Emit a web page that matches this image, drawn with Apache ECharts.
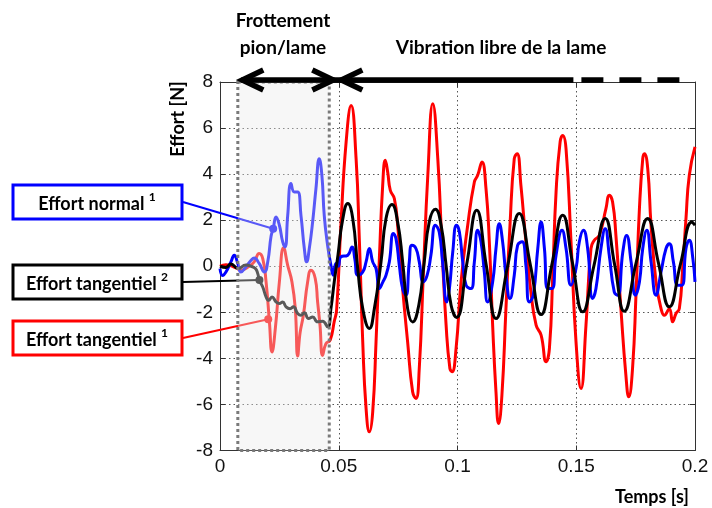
<!DOCTYPE html>
<html><head><meta charset="utf-8">
<script src="https://cdn.jsdelivr.net/npm/echarts@6/dist/echarts.min.js"></script>
<style>html,body{margin:0;padding:0;background:#fff}#c{width:712px;height:508px}</style>
</head><body><div id="c"></div>
<script>
// ---- tick labels ----
const xTickLabels = ['0', '0.05', '0.1', '0.15', '0.2'];
const yTickLabels = ['-8', '-6', '-4', '-2', '0', '2', '4', '6', '8'];

// ---- series: [time (s), effort (N)] ----
const effortTangentiel1 = [
 [0,0],[.0025,0.07],[.0067,-0.07],[.0088,-0.17],[.0123,0],[.0144,0.19],[.0165,0.55],[.0180,0.33],[.0194,-0.68],[.0208,-2.4],
 [.0219,-3.72],[.0233,-2.7],[.0250,-0.68],[.0268,0.8],[.0285,0.04],[.0303,-0.68],[.0317,-1.84],[.0327,-3.9],[.0337,-2.9],[.0351,-2.13],
 [.0369,-0.68],[.0383,-0.17],[.0401,-0.53],[.0411,-1.55],[.0421,-2.56],[.0432,-3.87],[.0446,-3.36],[.0464,-3.2],[.0481,-2.4],[.0491,-1.9],
 [.0509,1.78],[.0531,5.39],[.0552,6.98],[.0573,4.67],[.0587,1.06],[.0601,-3.28],[.0615,-6.17],[.0629,-7.19],[.0643,-6.32],[.0657,-3.28],
 [.0671,0.33],[.0685,3.51],[.0696,4.6],[.0706,4.09],[.0717,3.3],[.0734,2.94],[.0748,1.78],[.0769,-0.97],[.0790,-3.28],[.0811,-5.45],
 [.0825,-5.74],[.0839,-4.44],[.0856,-0.39],[.0875,3.95],[.0896,7.06],[.0917,4.67],[.0935,0.77],[.0952,-2.56],[.0968,-4.44],[.0977,-4.58],
 [.0994,-3.57],[.1015,-0.68],[.1043,1.78],[.1071,3.66],[.1085,3.95],[.1103,4.53],[.1120,3.37],[.1134,1.06],[.1148,-2.56],[.1162,-5.45],
 [.1173,-6.83],[.1187,-5.6],[.1204,-1.84],[.1221,1.78],[.1239,4.67],[.1251,4.89],[.1267,3.51],[.1288,1.06],[.1309,-1.11],[.1331,-2.56],
 [.1352,-2.99],[.1373,-4.15],[.1387,-3.57],[.1401,-0.39],[.1415,3.22],[.1432,5.39],[.1443,5.68],[.1457,5.1],[.1478,1.06],[.1499,-3.28],
 [.1520,-5.31],[.1541,-2.56],[.1562,0.77],[.1576,1.13],[.1597,1.34],[.1625,2.5],[.1639,3.08],[.1653,2.79],[.1667,1.34],[.1688,-1.84],
 [.1709,-4.73],[.1721,-5.67],[.1737,-4.44],[.1752,-1.11],[.1766,2.5],[.1780,4.67],[.1787,4.89],[.1801,4.24],[.1815,1.78],[.1836,-0.68],
 [.1857,-1.84],[.1871,-2.13],[.1892,-1.84],[.1906,-2.41],[.1920,-2.05],[.1934,-1.84],[.1948,-0.1],[.1962,2.07],[.1976,3.95],[.2000,5.18]
];
const effortTangentiel2 = [
 [0,0],[.0025,-0.05],[.0046,0.1],[.0076,-0.1],[.0109,0.05],[.0131,0],[.0149,-0.1],[.0159,-0.32],[.0166,-0.61],[.0180,-0.9],
 [.0194,-1.33],[.0205,-1.48],[.0219,-1.33],[.0236,-1.55],[.0250,-1.62],[.0264,-1.55],[.0278,-1.76],[.0295,-1.84],[.0309,-1.76],[.0327,-2.05],
 [.0341,-2.13],[.0355,-2.02],[.0373,-2.27],[.0390,-2.2],[.0411,-2.41],[.0432,-2.39],[.0453,-2.63],[.0467,-1.84],[.0481,-0.68],[.0497,0.5],
 [.0516,2.0],[.0538,2.72],[.0559,2.07],[.0580,-0.1],[.0601,-1.84],[.0629,-2.7],[.0650,-1.84],[.0678,0.19],[.0699,2.07],[.0724,2.68],
 [.0748,1.92],[.0769,0.19],[.0790,-1.84],[.0811,-2.42],[.0837,-1.69],[.0860,0.19],[.0881,1.92],[.0907,2.47],[.0931,1.78],[.0952,0.04],
 [.0973,-1.69],[.0996,-2.22],[.1039,0.1],[.1081,2.43],[.1121,0.05],[.1162,-2.27],[.1211,0.0],[.1260,2.29],[.1306,0.1],[.1352,-2.1],
 [.1397,0.05],[.1443,2.21],[.1485,0.1],[.1527,-1.98],[.1575,0.05],[.1622,2.07],[.1662,0.05],[.1702,-1.95],[.1752,0.15],[.1801,2.07],
 [.1846,0.15],[.1892,-1.76],[.1939,0.1],[.1987,1.92],[.2000,1.78]
];
const effortNormal1 = [
 [0,-0.1],[.0011,-0.4],[.0025,-0.25],[.0046,0.19],[.0060,0.48],[.0075,0.12],[.0088,-0.25],[.0109,-0.03],[.0131,0.26],[.0144,0.36],
 [.0165,0.12],[.0187,-0.25],[.0201,0.19],[.0215,1.3],[.0224,1.63],[.0236,2.14],[.0250,1.78],[.0264,1.06],[.0274,0.84],[.0285,2.2],
 [.0299,3.59],[.0313,3.22],[.0327,3.22],[.0341,2.2],[.0355,0.77],[.0365,0.19],[.0376,0.77],[.0390,1.92],[.0404,3.37],[.0418,4.67],
 [.0429,3.95],[.0439,2.2],[.0453,0.91],[.0467,0.04],[.0477,-0.39],[.0488,0.12],[.0498,0.0],[.0508,0.4],[.0538,0.48],[.0556,0.84],
 [.0568,0.3],[.0580,-0.39],[.0601,-0.25],[.0615,0.19],[.0629,0.77],[.0643,0.19],[.0657,-0.1],[.0671,-0.97],[.0685,-0.7],[.0699,-0.39],
 [.0713,0.19],[.0730,1.42],[.0741,1.2],[.0755,0.04],[.0769,-0.97],[.0783,-1.26],[.0797,0.19],[.0808,0.91],[.0825,0.77],[.0839,0.19],
 [.0856,-0.68],[.0872,-0.4],[.0888,0.48],[.0907,1.78],[.0923,1.49],[.0937,0.19],[.0955,-1.55],[.0966,-0.97],[.0980,0.62],[.0996,1.78],
 [.1008,1.49],[.1022,0.19],[.1036,-0.82],[.1057,-0.97],[.1071,0.19],[.1085,1.56],[.1099,1.06],[.1113,-0.25],[.1127,-1.55],[.1148,-0.68],
 [.1162,0.77],[.1176,1.85],[.1190,1.06],[.1204,-0.39],[.1221,-1.4],[.1239,-0.39],[.1253,0.91],[.1272,1.06],[.1288,0.04],[.1302,-1.55],
 [.1319,-1.26],[.1338,0.77],[.1352,1.92],[.1366,0.77],[.1380,-0.97],[.1398,-0.97],[.1415,0.48],[.1440,1.56],[.1457,0.77],[.1478,-0.82],
 [.1499,-0.1],[.1513,1.06],[.1530,1.56],[.1548,0.77],[.1569,-1.4],[.1583,-0.97],[.1604,0.77],[.1622,1.63],[.1639,0.48],[.1660,-1.11],
 [.1675,-1.26],[.1696,0.62],[.1712,1.34],[.1731,0.19],[.1749,-1.26],[.1766,-0.68],[.1780,0.77],[.1797,1.56],[.1815,0.19],[.1836,-1.26],
 [.1857,-0.25],[.1878,0.77],[.1892,0.98],[.1909,0.19],[.1927,-0.82],[.1945,-0.82],[.1962,0.77],[.1976,1.13],[.1991,0.33],[.2000,-0.68]
];

// ---- annotation anchors (data coords) ----
const frictionZone = [0.0075, 0.046];            // time span "Frottement pion/lame"
const arrowTimes = [0.0077, 0.0494, 0.1488, 0.2]; // arrow ends at top
const anchorNormal = [0.0224, 1.63];
const anchorTang2 = [0.0166, -0.6];
const anchorTang1 = [0.0203, -2.3];

const BLUE = '#0000ff', RED = '#ff0000', BLACK = '#000000';
const LBL_FONT = 'Lato, "Open Sans", sans-serif';

const chart = echarts.init(document.getElementById('c'), null, {renderer: 'canvas'});
const axisLine = {show: true, onZero: false, lineStyle: {color: '#333', width: 1}};
const tick = {show: true, inside: true, length: 5, lineStyle: {color: '#333', width: 1}};
const grid = {show: true, lineStyle: {color: '#555', width: 1, type: [1.5, 3]}};
const lab = {color: '#111', fontSize: 19, fontFamily: '"Liberation Sans", Arial, sans-serif'};

chart.setOption({
  animation: false,
  grid: {left: 220, right: 17, top: 82, bottom: 57.5},
  xAxis: [
    {type: 'value', position: 'bottom', min: 0, max: 0.2, interval: 0.05, axisLine, axisTick: tick,
     axisLabel: Object.assign({margin: 7, formatter: (v, i) => xTickLabels[i]}, lab), splitLine: grid},
    {type: 'value', position: 'top', min: 0, max: 0.2, interval: 0.05, axisLine, axisTick: tick,
     axisLabel: {show: false}, splitLine: {show: false}}
  ],
  yAxis: [
    {type: 'value', position: 'left', min: -8, max: 8, interval: 2, axisLine, axisTick: tick,
     axisLabel: Object.assign({margin: 7, formatter: (v, i) => yTickLabels[i]}, lab), splitLine: grid},
    {type: 'value', position: 'right', min: -8, max: 8, interval: 2, axisLine, axisTick: tick,
     axisLabel: {show: false}, splitLine: {show: false}}
  ],
  series: [
    {name: 'Effort tangentiel 1', type: 'line', data: effortTangentiel1, showSymbol: false, symbol: 'none',
     smooth: 0.5, lineStyle: {color: RED, width: 3}, itemStyle: {color: RED}, z: 2},
    {name: 'Effort normal 1', type: 'line', data: effortNormal1, showSymbol: false, symbol: 'none',
     smooth: 0.5, lineStyle: {color: BLUE, width: 3}, itemStyle: {color: BLUE}, z: 2},
    {name: 'Effort tangentiel 2', type: 'line', data: effortTangentiel2, showSymbol: false, symbol: 'none',
     smooth: 0.5, lineStyle: {color: BLACK, width: 3}, itemStyle: {color: BLACK}, z: 2}
  ]
});

const P = (t, v) => chart.convertToPixel({xAxisIndex: 0, yAxisIndex: 0}, [t, v]);
const g = [];

// friction zone overlay + dotted border
const zTL = P(frictionZone[0], 8), zBR = P(frictionZone[1], -8);
g.push({type: 'rect', z: 10, silent: true,
  shape: {x: zTL[0], y: zTL[1], width: zBR[0] - zTL[0], height: zBR[1] - zTL[1]},
  style: {fill: 'rgba(234,234,234,0.38)'}});
g.push({type: 'rect', z: 11, silent: true,
  shape: {x: zTL[0], y: zTL[1], width: zBR[0] - zTL[0], height: zBR[1] - zTL[1]},
  style: {fill: 'none', stroke: '#7a7a7a', lineWidth: 3, lineDash: [3, 3]}});

// annotation boxes with leaders
const boxes = [
  {text: 'Effort normal ', sup: '1', color: BLUE, top: 185, anchor: anchorNormal},
  {text: 'Effort tangentiel ', sup: '2', color: BLACK, top: 265, anchor: anchorTang2},
  {text: 'Effort tangentiel ', sup: '1', color: RED, top: 321, anchor: anchorTang1}
];
boxes.forEach(b => {
  const a = P(b.anchor[0], b.anchor[1]);
  const ly = b.top + 17;
  g.push({type: 'polyline', z: 3, silent: true, shape: {points: [[183, ly], a]},
    style: {stroke: b.color, lineWidth: 2, fill: null}});
  g.push({type: 'circle', z: 3, silent: true, shape: {cx: a[0], cy: a[1], r: 4}, style: {fill: b.color}});
  g.push({type: 'rect', z: 30, silent: true, shape: {x: 13, y: b.top, width: 169, height: 34},
    style: {fill: '#fff', stroke: b.color, lineWidth: 3}});
  g.push({type: 'text', z: 31, silent: true, x: 97, y: b.top + 17,
    style: {text: '{n|' + b.text + '}{s|' + b.sup + '}', textAlign: 'center', textVerticalAlign: 'middle',
      rich: {
        n: {fontFamily: LBL_FONT, fontWeight: 'bold', fontSize: 18, fill: '#000', lineHeight: 22, verticalAlign: 'bottom'},
        s: {fontFamily: LBL_FONT, fontWeight: 'bold', fontSize: 12, fill: '#000', lineHeight: 22, verticalAlign: 'top'}
      }}});
});

// top arrows
const yA = P(0, 8)[1] - 2;
const xa = P(arrowTimes[0], 8)[0], xb = P(arrowTimes[1], 8)[0], xc = P(arrowTimes[2], 8)[0], xd = P(arrowTimes[3], 8)[0];
const ax = 21, ay = 10, lw = 5.5;
const chev = (x, dir) => ({type: 'polyline', z: 40, silent: true,
  shape: {points: [[x + dir * (ax + 4), yA - ay], [x + dir * 4, yA], [x + dir * (ax + 4), yA + ay]]},
  style: {stroke: '#000', lineWidth: lw, fill: null, lineJoin: 'miter', lineCap: 'butt'}});
g.push({type: 'line', z: 40, silent: true, shape: {x1: xa + 3, y1: yA, x2: xc, y2: yA}, style: {stroke: '#000', lineWidth: lw}});
g.push({type: 'line', z: 40, silent: true, shape: {x1: xc, y1: yA, x2: xd, y2: yA},
  style: {stroke: '#000', lineWidth: lw, lineDash: [22, 16], lineDashOffset: 30}});
g.push(chev(xa, 1), chev(xb, -1), chev(xb, 1));

// texts
const tStyle = (txt, size) => ({text: txt, font: 'bold ' + size + 'px ' + LBL_FONT, fill: '#000', textAlign: 'center', textVerticalAlign: 'middle'});
g.push({type: 'text', z: 40, x: 283, y: 21, style: tStyle('Frottement', 19)});
g.push({type: 'text', z: 40, x: 283, y: 48, style: tStyle('pion/lame', 19)});
g.push({type: 'text', z: 40, x: 501, y: 48, style: tStyle('Vibration libre de la lame', 19)});
g.push({type: 'text', z: 40, x: 178, y: 119, rotation: Math.PI / 2, style: tStyle('Effort [N]', 18)});
g.push({type: 'text', z: 40, x: 652, y: 497, style: tStyle('Temps [s]', 18)});

chart.setOption({graphic: {elements: g}});
</script>
</body></html>
